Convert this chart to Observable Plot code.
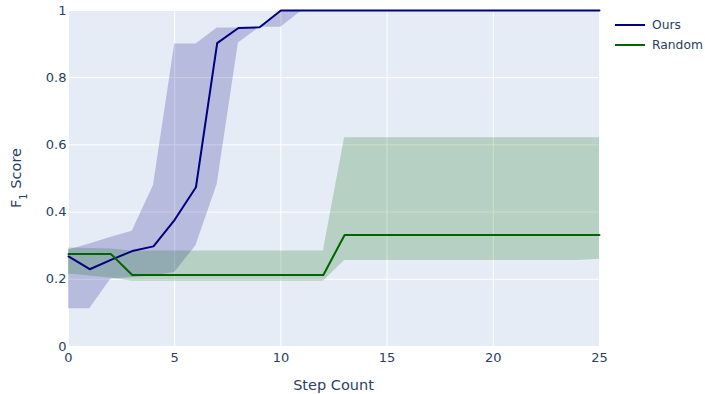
<!DOCTYPE html>
<html><head><meta charset="utf-8">
<script src="https://cdn.jsdelivr.net/npm/d3@7"></script>
<script src="https://cdn.jsdelivr.net/npm/@observablehq/plot@0.6"></script>
<style>
body{margin:0;background:#fff;font-family:"DejaVu Sans",sans-serif;}
#wrap{position:relative;width:705px;height:394px;}
#legend{position:absolute;left:615px;top:15px;font-size:12.3px;color:#2a3f5f;font-family:"DejaVu Sans",sans-serif;}
.item{display:flex;align-items:center;height:20px;}
.sw{width:30px;height:2px;margin-right:7px;}
</style></head><body><div id="wrap"><div id="legend"></div></div>
<script>
const steps = [0,1,2,3,4,5,6,7,8,9,10,11,12,13,14,15,16,17,18,19,20,21,22,23,24,25];
const oursMean  = [0.268,0.230,0.258,0.284,0.298,0.377,0.474,0.903,0.948,0.950,1,1,1,1,1,1,1,1,1,1,1,1,1,1,1,1];
const oursUpper = [0.287,0.305,0.325,0.343,0.479,0.900,0.900,0.948,0.948,0.950,1,1,1,1,1,1,1,1,1,1,1,1,1,1,1,1];
const oursLower = [0.112,0.112,0.201,0.205,0.210,0.220,0.300,0.482,0.903,0.950,0.950,1,1,1,1,1,1,1,1,1,1,1,1,1,1,1];
const randMean  = [0.275,0.275,0.275,0.213,0.213,0.213,0.213,0.213,0.213,0.213,0.213,0.213,0.213,0.332,0.332,0.332,0.332,0.332,0.332,0.332,0.332,0.332,0.332,0.332,0.332,0.332];
const randUpper = [0.293,0.292,0.290,0.284,0.284,0.284,0.284,0.284,0.284,0.284,0.284,0.284,0.284,0.621,0.621,0.621,0.621,0.621,0.621,0.621,0.621,0.621,0.621,0.621,0.621,0.621];
const randLower = [0.216,0.210,0.204,0.194,0.194,0.194,0.194,0.194,0.194,0.194,0.194,0.194,0.194,0.256,0.256,0.256,0.256,0.256,0.256,0.256,0.256,0.256,0.256,0.256,0.256,0.260];
const xTicks = [0,5,10,15,20,25];
const yTicks = [0,0.2,0.4,0.6,0.8,1];
const seriesNames = ["Ours","Random"];
const seriesColors = ["#000080","#006400"];

const ours = steps.map((s,i)=>({step:s, mean:oursMean[i], lo:oursLower[i], hi:oursUpper[i]}));
const rand = steps.map((s,i)=>({step:s, mean:randMean[i], lo:randLower[i], hi:randUpper[i]}));

const plot = Plot.plot({
  width:705, height:394,
  marginLeft:68, marginRight:106, marginTop:10, marginBottom:48,
  style:{fontFamily:"'DejaVu Sans', sans-serif", fontSize:"13px", color:"#2a3f5f", background:"white", overflow:"visible"},
  x:{domain:[0,25]},
  y:{domain:[0,1]},
  marks:[
    Plot.frame({fill:"#E5ECF6", stroke:null}),
    Plot.gridX(xTicks,{stroke:"white", strokeOpacity:1, strokeWidth:1}),
    Plot.gridY(yTicks,{stroke:"white", strokeOpacity:1, strokeWidth:1}),
    Plot.areaY(ours,{x:"step", y1:"lo", y2:"hi", fill:seriesColors[0], fillOpacity:0.2}),
    Plot.areaY(rand,{x:"step", y1:"lo", y2:"hi", fill:seriesColors[1], fillOpacity:0.2}),
    Plot.lineY(ours,{x:"step", y:"mean", stroke:seriesColors[0], strokeWidth:2}),
    Plot.lineY(rand,{x:"step", y:"mean", stroke:seriesColors[1], strokeWidth:2}),
    Plot.axisX({ticks:xTicks, tickSize:0, tickPadding:6, label:null, tickFormat:d=>String(d)}),
    Plot.axisY({ticks:yTicks, tickSize:0, tickPadding:2, label:null, tickFormat:d3.format("~g")})
  ]
});
document.getElementById("wrap").prepend(plot);

const svg = d3.select(plot);
svg.append("text")
  .attr("x",333.5).attr("y",390)
  .attr("text-anchor","middle")
  .attr("fill","#2a3f5f")
  .style("font-size","14.5px")
  .style("font-family","'DejaVu Sans', sans-serif")
  .text("Step Count");
const yl = svg.append("text")
  .attr("transform","translate(21,178) rotate(-90)")
  .attr("text-anchor","middle")
  .attr("fill","#2a3f5f")
  .style("font-size","14.5px")
  .style("font-family","'DejaVu Sans', sans-serif");
yl.append("tspan").text("F");
yl.append("tspan").attr("baseline-shift","sub").style("font-size","10px").text("1");
yl.append("tspan").text(" Score");

const legend = d3.select("#legend");
seriesNames.forEach((n,i)=>{
  const it = legend.append("div").attr("class","item");
  it.append("div").attr("class","sw").style("background",seriesColors[i]);
  it.append("span").text(n);
});
</script>
</body></html>
